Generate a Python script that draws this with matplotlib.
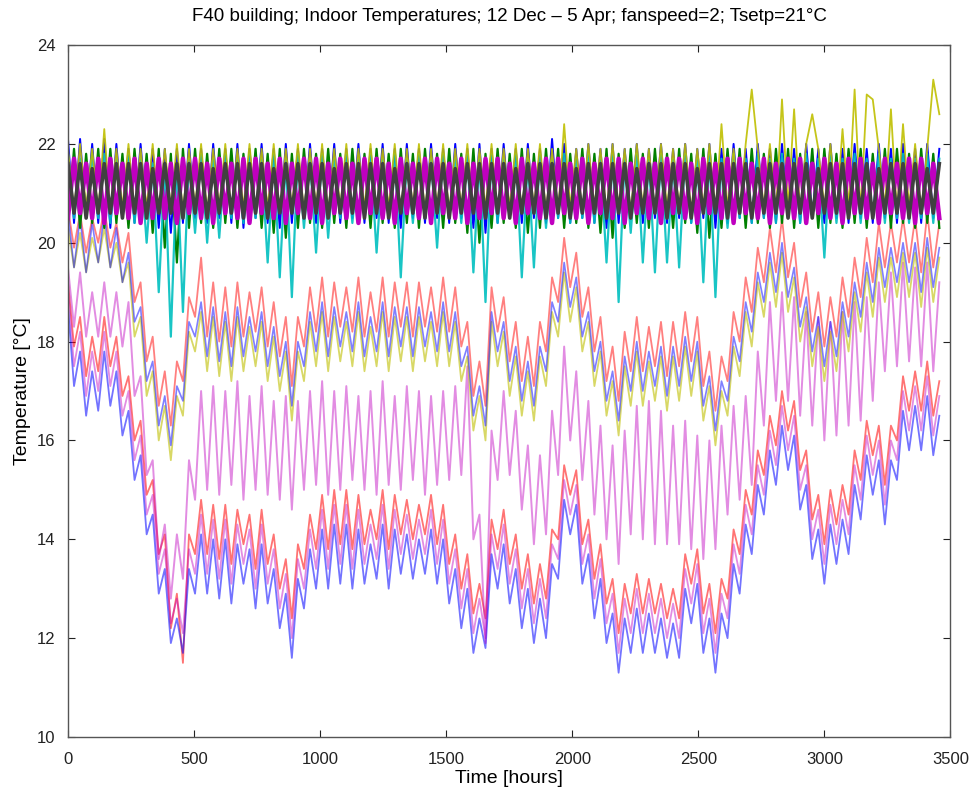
import matplotlib
matplotlib.use("Agg")
import matplotlib.pyplot as plt
import numpy as np

plt.rcParams["font.family"] = ["Liberation Sans", "DejaVu Sans"]

# ── 数据：每 24 小时一个读数（高/低交替），共 145 点 ───────────────
HOURS = list(range(0, 3457, 24))

# 下部带（约 12-15 °C）
LOW_BLUE = [
    18.7, 17.1, 17.8, 16.5, 17.4, 16.6, 17.8, 16.7, 17.4, 16.1,
    16.6, 15.2, 15.7, 14.1, 14.5, 12.9, 13.4, 11.9, 12.4, 11.7,
    13.4, 12.9, 14.1, 12.9, 14.0, 12.8, 14.0, 12.7, 13.9, 13.1,
    13.8, 12.6, 13.9, 12.7, 13.4, 12.2, 12.9, 11.6, 13.2, 12.6,
    13.8, 13.0, 14.2, 13.0, 14.3, 13.1, 14.3, 13.0, 14.2, 13.1,
    13.9, 13.2, 14.3, 13.0, 14.2, 13.3, 14.1, 13.2, 14.0, 13.3,
    14.2, 13.1, 14.0, 12.7, 13.4, 12.2, 13.0, 11.7, 12.4, 11.8,
    13.7, 13.0, 13.9, 12.7, 13.4, 12.2, 13.0, 11.9, 12.8, 12.0,
    13.5, 13.2, 14.8, 14.1, 14.7, 13.1, 13.7, 12.4, 13.2, 11.9,
    12.5, 11.3, 12.4, 11.7, 12.6, 11.7, 12.5, 11.7, 12.4, 11.6,
    12.3, 11.6, 13.0, 12.3, 13.1, 11.7, 12.4, 11.3, 12.5, 12.0,
    13.5, 12.9, 14.3, 13.7, 15.1, 14.5, 15.8, 15.1, 16.3, 15.4,
    16.1, 14.6, 15.1, 13.6, 14.2, 13.1, 14.3, 13.5, 14.4, 13.7,
    15.1, 14.4, 15.7, 14.9, 15.6, 14.3, 15.6, 15.2, 16.6, 15.8,
    16.7, 15.8, 16.9, 15.7, 16.5,
]
LOW_RED = [
    19.2, 17.9, 18.5, 17.3, 18.1, 17.4, 18.5, 17.5, 18.1, 16.9,
    17.3, 16.0, 16.4, 14.9, 15.2, 13.7, 14.1, 12.2, 12.9, 11.5,
    14.1, 13.7, 14.8, 13.7, 14.7, 13.6, 14.7, 13.5, 14.6, 13.9,
    14.5, 13.4, 14.6, 13.5, 14.1, 13.0, 13.6, 12.4, 13.9, 13.4,
    14.5, 13.8, 14.9, 13.8, 15.0, 13.9, 15.0, 13.8, 14.9, 13.9,
    14.6, 14.0, 15.0, 13.8, 14.9, 14.1, 14.8, 14.0, 14.7, 14.1,
    14.9, 13.9, 14.7, 13.5, 14.1, 13.0, 13.7, 12.5, 13.1, 12.4,
    14.4, 13.8, 14.6, 13.5, 14.1, 13.0, 13.7, 12.7, 13.5, 12.8,
    14.2, 14.0, 15.5, 14.9, 15.4, 13.9, 14.4, 13.2, 13.9, 12.7,
    13.2, 12.1, 13.1, 12.5, 13.3, 12.5, 13.2, 12.5, 13.1, 12.4,
    13.0, 12.4, 13.7, 13.1, 13.8, 12.5, 13.1, 12.1, 13.2, 12.8,
    14.2, 13.7, 15.0, 14.5, 15.8, 15.3, 16.5, 15.9, 17.0, 16.2,
    16.8, 15.4, 15.8, 14.4, 14.9, 13.9, 15.0, 14.3, 15.1, 14.5,
    15.8, 15.2, 16.4, 15.7, 16.3, 15.1, 16.3, 16.0, 17.3, 16.6,
    17.4, 16.6, 17.6, 16.5, 17.2,
]
LOW_MAG = [
    19.1, 17.5, 18.2, 16.9, 17.8, 17.0, 18.2, 17.1, 17.8, 16.5,
    17.0, 15.6, 16.1, 14.5, 14.9, 13.3, 13.8, 12.3, 12.8, 12.1,
    13.8, 13.3, 14.5, 13.3, 14.4, 13.2, 14.4, 13.1, 14.3, 13.5,
    14.2, 13.0, 14.3, 13.1, 13.8, 12.6, 13.3, 12.0, 13.6, 13.0,
    14.2, 13.4, 14.6, 13.4, 14.7, 13.5, 14.7, 13.4, 14.6, 13.5,
    14.3, 13.6, 14.7, 13.4, 14.6, 13.7, 14.5, 13.6, 14.4, 13.7,
    14.6, 13.5, 14.4, 13.1, 13.8, 12.6, 13.4, 12.1, 12.8, 12.0,
    14.1, 13.4, 14.3, 13.1, 13.8, 12.6, 13.4, 12.3, 13.2, 12.4,
    13.9, 13.6, 15.2, 14.5, 15.1, 13.5, 14.1, 12.8, 13.6, 12.3,
    12.9, 11.7, 12.8, 12.1, 13.0, 12.1, 12.9, 12.1, 12.8, 12.0,
    12.7, 12.0, 13.4, 12.7, 13.5, 12.1, 12.8, 11.7, 12.9, 12.4,
    13.9, 13.3, 14.7, 14.1, 15.5, 14.9, 16.2, 15.5, 16.7, 15.8,
    16.5, 15.0, 15.5, 14.0, 14.6, 13.5, 14.7, 13.9, 14.8, 14.1,
    15.5, 14.8, 16.1, 15.3, 16.0, 14.7, 16.0, 15.6, 17.0, 16.2,
    17.1, 16.2, 17.3, 16.1, 16.9,
]

# 中部紫红带（约 15-17 °C）
MID_MAG = [
    19.5, 18.3, 19.4, 18.1, 19.0, 18.1, 19.2, 18.1, 19.0, 17.9,
    18.8, 16.9, 17.3, 15.3, 15.6, 13.6, 14.3, 12.8, 14.1, 13.2,
    15.6, 14.8, 17.0, 15.0, 17.1, 14.9, 17.0, 15.1, 17.2, 14.8,
    16.9, 15.0, 17.1, 14.9, 16.8, 14.8, 16.9, 14.6, 16.8, 15.0,
    17.0, 15.1, 17.2, 14.9, 17.0, 15.0, 17.1, 15.2, 16.9, 15.0,
    17.0, 14.9, 17.2, 15.1, 16.9, 15.0, 17.1, 15.2, 17.0, 14.9,
    16.9, 15.1, 17.0, 15.2, 17.1, 15.3, 17.5, 14.0, 14.5, 11.9,
    16.2, 15.2, 17.0, 15.3, 16.6, 14.6, 15.9, 13.9, 15.7, 14.1,
    16.6, 15.3, 17.9, 16.0, 17.4, 15.2, 16.8, 14.5, 16.3, 14.0,
    15.9, 13.5, 16.2, 14.1, 16.7, 14.0, 16.8, 13.9, 16.6, 13.9,
    16.3, 13.9, 16.4, 13.8, 16.1, 13.6, 16.0, 13.8, 16.3, 14.5,
    16.7, 14.8, 16.9, 15.1, 17.8, 16.3, 18.8, 16.8, 19.0, 16.8,
    18.9, 16.5, 18.6, 16.3, 18.5, 16.0, 18.4, 16.1, 18.6, 16.3,
    18.8, 16.4, 18.9, 16.8, 19.2, 17.4, 19.4, 17.5, 19.6, 17.6,
    19.5, 17.5, 19.6, 17.4, 19.2,
]

# 中部带（约 17-19 °C）
MID_RED = [
    20.7, 19.9, 20.6, 19.8, 20.5, 20.0, 20.7, 19.9, 20.4, 19.6,
    20.2, 18.8, 19.2, 17.6, 18.1, 16.7, 17.4, 16.3, 17.6, 17.2,
    18.9, 18.5, 19.7, 18.1, 19.2, 18.0, 19.1, 17.9, 19.2, 18.1,
    19.0, 18.2, 19.1, 17.9, 18.8, 17.7, 18.5, 17.1, 18.5, 17.9,
    19.1, 18.2, 19.3, 18.1, 19.2, 18.3, 19.1, 18.2, 19.3, 18.1,
    19.0, 18.2, 19.3, 18.1, 19.2, 18.3, 19.2, 18.1, 19.2, 18.3,
    19.1, 18.2, 19.3, 18.2, 19.1, 17.9, 18.4, 16.9, 17.6, 16.7,
    19.1, 18.2, 18.9, 17.6, 18.4, 17.2, 18.1, 17.1, 18.4, 17.8,
    19.3, 18.8, 20.1, 19.1, 19.8, 18.5, 19.1, 17.8, 18.5, 17.2,
    17.9, 16.8, 18.2, 17.4, 18.5, 17.4, 18.3, 17.5, 18.4, 17.3,
    18.4, 17.5, 18.6, 17.6, 18.5, 17.1, 17.8, 16.6, 17.7, 17.2,
    18.6, 18.0, 19.3, 18.6, 19.9, 19.2, 20.3, 19.4, 20.5, 19.3,
    20.0, 18.7, 19.4, 18.2, 19.0, 17.9, 18.9, 18.1, 19.3, 18.5,
    19.7, 18.9, 20.1, 19.2, 20.4, 19.5, 20.4, 19.6, 20.5, 19.6,
    20.5, 19.4, 20.6, 19.5, 20.4,
]
MID_BLUE = [
    20.6, 19.5, 20.5, 19.4, 20.4, 19.6, 20.6, 19.5, 20.3, 19.2,
    19.8, 18.4, 18.7, 17.2, 17.6, 16.3, 16.9, 15.9, 17.1, 16.8,
    18.4, 18.1, 18.8, 17.7, 18.7, 17.6, 18.6, 17.5, 18.7, 17.7,
    18.5, 17.8, 18.6, 17.5, 18.3, 17.3, 18.0, 16.7, 18.0, 17.5,
    18.6, 17.8, 18.8, 17.7, 18.7, 17.9, 18.6, 17.8, 18.8, 17.7,
    18.5, 17.8, 18.8, 17.7, 18.7, 17.9, 18.7, 17.7, 18.7, 17.9,
    18.6, 17.8, 18.8, 17.8, 18.6, 17.5, 17.9, 16.5, 17.1, 16.3,
    18.6, 17.8, 18.4, 17.2, 17.9, 16.8, 17.6, 16.7, 17.9, 17.4,
    18.8, 18.4, 19.6, 18.7, 19.3, 18.1, 18.6, 17.4, 18.0, 16.8,
    17.4, 16.4, 17.7, 17.0, 18.0, 17.0, 17.8, 17.1, 17.9, 16.9,
    17.9, 17.1, 18.1, 17.2, 18.0, 16.7, 17.3, 16.2, 17.2, 16.8,
    18.1, 17.6, 18.8, 18.2, 19.4, 18.8, 19.8, 19.0, 20.0, 18.9,
    19.5, 18.3, 18.9, 17.8, 18.5, 17.5, 18.4, 17.7, 18.8, 18.1,
    19.2, 18.5, 19.6, 18.8, 19.9, 19.1, 19.9, 19.2, 20.0, 19.2,
    20.0, 19.0, 20.1, 19.1, 19.9,
]
MID_YEL = [
    20.3, 19.5, 20.2, 19.4, 20.1, 19.6, 20.3, 19.5, 20.0, 19.2,
    19.6, 18.1, 18.5, 16.9, 17.4, 16.0, 16.7, 15.6, 16.9, 16.5,
    18.2, 17.8, 18.6, 17.4, 18.5, 17.3, 18.4, 17.2, 18.5, 17.4,
    18.3, 17.5, 18.4, 17.2, 18.1, 17.0, 17.8, 16.4, 17.8, 17.2,
    18.4, 17.5, 18.6, 17.4, 18.5, 17.6, 18.4, 17.5, 18.6, 17.4,
    18.3, 17.5, 18.6, 17.4, 18.5, 17.6, 18.5, 17.4, 18.5, 17.6,
    18.4, 17.5, 18.6, 17.5, 18.4, 17.2, 17.7, 16.2, 16.9, 16.0,
    18.4, 17.5, 18.2, 16.9, 17.7, 16.5, 17.4, 16.4, 17.7, 17.1,
    18.6, 18.1, 19.4, 18.4, 19.1, 17.8, 18.4, 17.1, 17.8, 16.5,
    17.2, 16.1, 17.5, 16.7, 17.8, 16.7, 17.6, 16.8, 17.7, 16.6,
    17.7, 16.8, 17.9, 16.9, 17.8, 16.4, 17.1, 15.9, 17.0, 16.5,
    17.9, 17.3, 18.6, 17.9, 19.2, 18.5, 19.6, 18.7, 19.8, 18.6,
    19.3, 18.0, 18.7, 17.5, 18.3, 17.2, 18.2, 17.4, 18.6, 17.8,
    19.0, 18.2, 19.4, 18.5, 19.7, 18.8, 19.7, 18.9, 19.8, 18.9,
    19.8, 18.7, 19.9, 18.8, 19.7,
]

# 上部带（设定点附近，约 20.3-22 °C）
TOP_BLUE = [
    22.1, 20.4, 22.1, 20.5, 22.0, 20.4, 22.1, 20.3, 22.0, 20.5,
    21.9, 20.4, 22.0, 20.5, 21.9, 20.3, 21.9, 20.2, 21.9, 20.4,
    22.0, 20.5, 21.9, 20.4, 22.0, 20.5, 21.9, 20.4, 22.0, 20.3,
    21.9, 20.5, 22.0, 20.4, 21.9, 20.3, 22.0, 20.4, 21.9, 20.5,
    22.0, 20.4, 21.9, 20.5, 22.0, 20.4, 21.9, 20.5, 22.0, 20.4,
    21.9, 20.5, 22.0, 20.4, 21.9, 20.3, 22.0, 20.5, 21.9, 20.4,
    22.0, 20.5, 21.9, 20.4, 22.0, 20.5, 21.9, 20.3, 22.0, 20.2,
    21.9, 20.4, 22.0, 20.5, 21.9, 20.4, 22.0, 20.5, 21.9, 20.4,
    22.1, 20.5, 22.0, 20.4, 21.9, 20.5, 22.0, 20.4, 21.9, 20.3,
    22.0, 20.4, 21.9, 20.5, 22.0, 20.4, 21.9, 20.5, 22.0, 20.4,
    21.9, 20.5, 22.0, 20.4, 21.9, 20.5, 22.0, 20.3, 21.9, 20.4,
    22.0, 20.5, 21.9, 20.4, 22.0, 20.5, 21.9, 20.4, 22.0, 20.5,
    21.9, 20.4, 22.0, 20.5, 21.9, 20.4, 22.0, 20.5, 21.9, 20.4,
    22.0, 20.5, 21.9, 20.4, 22.0, 20.5, 21.9, 20.4, 22.0, 20.5,
    21.9, 20.4, 22.0, 20.5, 21.9,
]
TOP_GREEN = [
    20.4, 21.9, 20.3, 21.8, 20.4, 21.9, 20.3, 21.9, 20.4, 21.8,
    20.3, 21.9, 20.4, 21.8, 20.2, 21.9, 19.9, 21.8, 19.6, 21.9,
    20.3, 21.9, 20.4, 21.8, 20.3, 21.9, 20.4, 21.9, 20.3, 21.8,
    20.4, 21.9, 20.3, 21.8, 20.2, 21.9, 20.1, 21.8, 20.3, 21.9,
    20.4, 21.8, 20.3, 21.9, 20.4, 21.8, 20.3, 21.9, 20.4, 21.8,
    20.3, 21.9, 20.4, 21.8, 20.3, 21.9, 20.4, 21.8, 20.3, 21.9,
    20.4, 21.8, 20.3, 21.9, 20.4, 21.8, 20.2, 21.9, 20.0, 21.8,
    20.3, 21.9, 20.4, 21.8, 20.3, 21.9, 20.2, 21.8, 20.3, 21.9,
    20.4, 21.9, 20.3, 21.8, 20.4, 21.9, 20.3, 21.8, 20.2, 21.9,
    20.1, 21.8, 20.3, 21.9, 20.4, 21.8, 20.3, 21.9, 20.4, 21.8,
    20.3, 21.9, 20.4, 21.8, 20.2, 21.9, 20.1, 21.8, 20.3, 21.9,
    20.4, 21.9, 20.3, 21.9, 20.4, 21.8, 20.3, 21.9, 20.4, 21.9,
    20.3, 21.8, 20.4, 21.9, 20.3, 21.9, 20.4, 21.8, 20.3, 21.9,
    20.4, 21.9, 20.3, 21.8, 20.4, 21.9, 20.3, 21.9, 20.4, 21.8,
    20.3, 21.9, 20.4, 21.8, 20.3,
]
TOP_CYAN = [
    21.8, 20.5, 21.7, 20.6, 21.8, 20.5, 21.8, 20.4, 21.7, 20.5,
    21.8, 20.4, 21.7, 20.0, 21.6, 19.0, 21.5, 18.1, 21.6, 18.6,
    21.7, 20.2, 21.8, 20.0, 21.7, 20.1, 21.8, 20.5, 21.7, 20.4,
    21.8, 20.5, 21.7, 19.6, 21.8, 19.3, 21.7, 18.9, 21.8, 20.3,
    21.7, 19.8, 21.8, 20.1, 21.7, 20.5, 21.8, 20.4, 21.7, 20.5,
    21.8, 19.8, 21.7, 20.5, 21.8, 19.3, 21.7, 20.4, 21.8, 20.5,
    21.7, 19.9, 21.8, 20.5, 21.7, 20.4, 21.8, 19.4, 21.7, 18.8,
    21.8, 20.4, 21.7, 20.5, 21.8, 19.3, 21.7, 19.5, 21.8, 20.3,
    21.7, 20.5, 21.8, 20.4, 21.7, 20.5, 21.8, 20.4, 21.7, 19.6,
    21.8, 18.8, 21.7, 20.2, 21.8, 19.6, 21.7, 19.4, 21.8, 19.6,
    21.7, 19.5, 21.8, 20.4, 21.7, 19.2, 21.8, 18.9, 21.7, 20.3,
    21.8, 20.5, 21.7, 20.4, 21.8, 20.5, 21.7, 20.4, 21.8, 20.5,
    21.7, 20.4, 21.8, 20.5, 21.7, 19.7, 21.8, 20.4, 21.7, 20.5,
    21.8, 20.4, 21.7, 20.5, 21.8, 20.4, 21.7, 20.5, 21.8, 20.4,
    21.7, 20.5, 21.8, 20.4, 21.7,
]
TOP_MAG = [
    20.5, 21.7, 20.6, 21.6, 20.5, 21.7, 20.4, 21.7, 20.6, 21.6,
    20.5, 21.7, 20.4, 21.6, 20.5, 21.7, 20.5, 21.6, 20.4, 21.7,
    20.6, 21.7, 20.5, 21.6, 20.4, 21.7, 20.6, 21.6, 20.5, 21.7,
    20.4, 21.7, 20.6, 21.6, 20.5, 21.7, 20.4, 21.6, 20.6, 21.7,
    20.5, 21.7, 20.4, 21.6, 20.6, 21.7, 20.5, 21.6, 20.4, 21.7,
    20.6, 21.7, 20.5, 21.6, 20.4, 21.7, 20.6, 21.6, 20.5, 21.7,
    20.4, 21.7, 20.6, 21.6, 20.5, 21.7, 20.4, 21.6, 20.5, 21.7,
    20.6, 21.7, 20.5, 21.6, 20.4, 21.7, 20.6, 21.6, 20.5, 21.7,
    20.4, 21.7, 20.6, 21.6, 20.5, 21.7, 20.4, 21.6, 20.6, 21.7,
    20.5, 21.7, 20.4, 21.6, 20.6, 21.7, 20.5, 21.6, 20.4, 21.7,
    20.6, 21.7, 20.5, 21.6, 20.4, 21.7, 20.6, 21.6, 20.5, 21.7,
    20.4, 21.7, 20.6, 21.6, 20.5, 21.7, 20.4, 21.6, 20.6, 21.7,
    20.5, 21.7, 20.4, 21.6, 20.6, 21.7, 20.5, 21.6, 20.4, 21.7,
    20.6, 21.7, 20.5, 21.6, 20.4, 21.7, 20.6, 21.6, 20.5, 21.7,
    20.4, 21.7, 20.6, 21.6, 20.5,
]
TOP_YEL = [
    21.9, 20.6, 22.0, 20.7, 21.9, 20.6, 22.3, 20.6, 21.9, 20.7,
    22.0, 20.6, 21.9, 20.7, 22.0, 20.6, 21.9, 20.7, 22.0, 20.6,
    21.9, 20.7, 22.0, 20.6, 21.9, 20.7, 22.0, 20.6, 21.9, 20.7,
    22.0, 20.6, 21.9, 20.7, 22.0, 20.6, 21.9, 20.7, 22.0, 20.6,
    21.9, 20.7, 22.0, 20.6, 21.9, 20.7, 22.0, 20.6, 21.9, 20.7,
    22.0, 20.6, 21.9, 20.7, 22.0, 20.6, 21.9, 20.7, 22.0, 20.6,
    21.9, 20.7, 22.0, 20.6, 21.9, 20.7, 22.0, 20.6, 21.9, 20.7,
    22.0, 20.6, 21.9, 20.7, 22.0, 20.6, 21.9, 20.7, 22.0, 20.6,
    21.9, 20.6, 22.4, 20.7, 21.9, 20.6, 22.0, 20.7, 21.9, 20.6,
    22.0, 20.7, 21.9, 20.6, 22.0, 20.7, 21.9, 20.6, 22.0, 20.7,
    21.9, 20.7, 22.0, 20.6, 21.9, 20.7, 22.0, 20.6, 22.4, 20.7,
    21.9, 20.6, 22.0, 23.1, 21.9, 20.7, 22.0, 20.6, 22.9, 20.7,
    22.7, 20.6, 22.0, 22.6, 21.9, 20.7, 22.0, 20.6, 22.3, 20.7,
    23.1, 20.6, 23.0, 22.9, 21.9, 20.7, 22.7, 20.6, 22.4, 20.7,
    22.0, 20.6, 21.9, 23.3, 22.6,
]
TOP_BLACK = [
    21.6, 20.6, 21.6, 20.5, 21.5, 20.6, 21.6, 20.6, 21.6, 20.5,
    21.6, 20.6, 21.6, 20.5, 21.5, 20.6, 21.6, 20.6, 21.6, 20.5,
    21.6, 20.6, 21.6, 20.5, 21.5, 20.6, 21.6, 20.6, 21.6, 20.5,
    21.6, 20.6, 21.6, 20.5, 21.5, 20.6, 21.6, 20.6, 21.6, 20.5,
    21.6, 20.6, 21.6, 20.5, 21.5, 20.6, 21.6, 20.6, 21.6, 20.5,
    21.6, 20.6, 21.6, 20.5, 21.5, 20.6, 21.6, 20.6, 21.6, 20.5,
    21.6, 20.6, 21.6, 20.5, 21.5, 20.6, 21.6, 20.6, 21.6, 20.5,
    21.6, 20.6, 21.6, 20.5, 21.5, 20.6, 21.6, 20.6, 21.6, 20.5,
    21.6, 20.6, 21.6, 20.5, 21.5, 20.6, 21.6, 20.6, 21.6, 20.5,
    21.6, 20.6, 21.6, 20.5, 21.5, 20.6, 21.6, 20.6, 21.6, 20.5,
    21.6, 20.6, 21.6, 20.5, 21.5, 20.6, 21.6, 20.6, 21.6, 20.5,
    21.6, 20.6, 21.6, 20.5, 21.5, 20.6, 21.6, 20.6, 21.6, 20.5,
    21.6, 20.6, 21.6, 20.5, 21.5, 20.6, 21.6, 20.6, 21.6, 20.5,
    21.6, 20.6, 21.6, 20.5, 21.5, 20.6, 21.6, 20.6, 21.6, 20.5,
    21.6, 20.6, 21.5, 20.6, 21.6,
]

# MATLAB 旧版默认色序
C_B = (0.0, 0.0, 1.0)
C_G = (0.0, 0.5, 0.0)
C_R = (1.0, 0.0, 0.0)
C_C = (0.0, 0.75, 0.75)
C_M = (0.75, 0.0, 0.75)
C_Y = (0.75, 0.75, 0.0)
C_K = (0.25, 0.25, 0.25)

# (数据, 颜色, 线宽, 透明度)
LOWER = [
    (LOW_RED, C_R, 1.3, 0.55), (LOW_MAG, C_M, 1.3, 0.45), (LOW_BLUE, C_B, 1.3, 0.55),
    (MID_MAG, C_M, 1.4, 0.45),
    (MID_RED, C_R, 1.3, 0.5), (MID_YEL, C_Y, 1.3, 0.6), (MID_BLUE, C_B, 1.2, 0.5),
]
UPPER = [
    (TOP_BLUE, C_B, 1.4, 1.0), (TOP_GREEN, C_G, 1.6, 1.0), (TOP_CYAN, C_C, 1.6, 0.9),
    (TOP_YEL, C_Y, 1.3, 0.9), (TOP_MAG, C_M, 3.2, 1.0), (TOP_BLACK, C_K, 2.6, 1.0),
]

fig = plt.figure(figsize=(9.78, 7.96), dpi=100)
ax = fig.add_axes([0.0695, 0.0741, 0.9023, 0.8693])

for vals, col, lw, a in LOWER:
    ax.plot(HOURS, vals, color=col, lw=lw, alpha=a)
for vals, col, lw, a in UPPER:
    ax.plot(HOURS, vals, color=col, lw=lw, alpha=a)

ax.set_xlim(0, 3500)
ax.set_ylim(10, 24)
ax.set_xticks(np.arange(0, 3501, 500))
ax.set_yticks(np.arange(10, 25, 2))
ax.tick_params(direction="in", top=True, right=True, length=5,
               labelsize=12, colors="#222222")
ax.tick_params(axis="x", pad=11)
ax.tick_params(axis="y", pad=9)
for s in ax.spines.values():
    s.set_color("#555555")
    s.set_linewidth(1.0)

ax.set_xlabel("Time [hours]", fontsize=14, labelpad=2)
ax.set_ylabel("Temperature [°C]", fontsize=14, labelpad=4)
ax.set_title("F40 building; Indoor Temperatures; 12 Dec – 5 Apr; fanspeed=2; Tsetp=21°C",
             fontsize=13.5, pad=17)

fig.savefig("out.png", dpi=100, facecolor="white")
plt.close(fig)
